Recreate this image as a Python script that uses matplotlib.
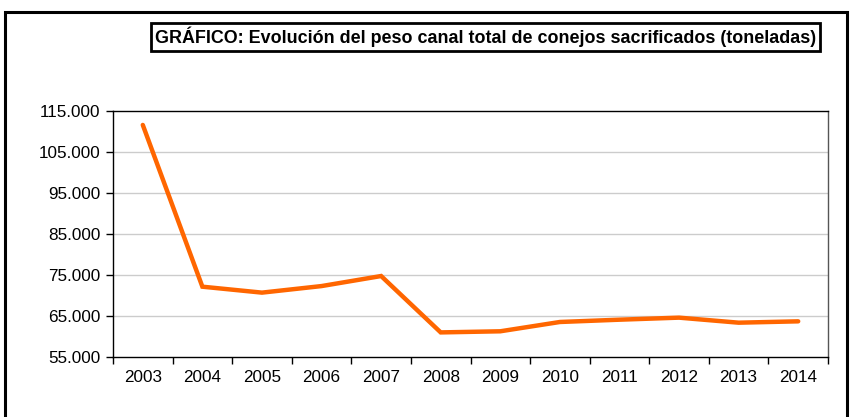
import numpy as np
import matplotlib.pyplot as plt
from matplotlib.patches import Rectangle

years = ['2003', '2004', '2005', '2006', '2007', '2008', '2009',
         '2010', '2011', '2012', '2013', '2014']
toneladas = [111600, 72150, 70700, 72300, 74750, 61000, 61270,
             63540, 64100, 64600, 63370, 63700]
yticks = [55000, 65000, 75000, 85000, 95000, 105000, 115000]
ylabels = ['55.000', '65.000', '75.000', '85.000', '95.000', '105.000', '115.000']
title = 'GRÁFICO: Evolución del peso canal total de conejos sacrificados (toneladas)'

plt.rcParams['font.family'] = ['Liberation Sans', 'DejaVu Sans']

W, H = 850, 417
fig = plt.figure(figsize=(W / 100, H / 100), dpi=100)

# outer frame of the chart
fig.patches.append(Rectangle((5 / W, -0.05), (W - 8) / W, 1.05 - 12 / H,
                             transform=fig.transFigure, fill=False,
                             edgecolor='black', linewidth=2.2))

ax = fig.add_axes([113 / W, 1 - 357 / H, (828 - 113) / W, (357 - 111) / H])
x = np.arange(len(years))
ax.plot(x, toneladas, color='#FF6600', linewidth=3.2, solid_capstyle='round',
        solid_joinstyle='miter')

ax.set_xlim(-0.5, len(years) - 0.5)
ax.set_ylim(55000, 115000)
ax.set_yticks(yticks)
ax.set_yticklabels(ylabels)
ax.set_xticks(x)
ax.set_xticklabels(years)
ax.set_xticks(np.arange(-0.5, len(years)), minor=True)
ax.tick_params(axis='x', which='major', length=0, pad=9, labelsize=12.3)
ax.tick_params(axis='x', which='minor', length=5, width=1, direction='out')
ax.tick_params(axis='y', length=5, width=1, direction='out', labelsize=12.3, pad=4)

for v in yticks[1:-1]:
    ax.axhline(v, color='#cccccc', linewidth=1, zorder=0)
for s in ax.spines.values():
    s.set_linewidth(1)
    s.set_color('black')
ax.spines['right'].set_color('#555555')

fig.text(155 / W, 1 - 37 / H, title, fontsize=12.9, fontweight='bold',
         va='center', ha='left',
         bbox=dict(boxstyle='square,pad=0.2', facecolor='white',
                   edgecolor='black', linewidth=2))

fig.savefig('out.png', dpi=100)
